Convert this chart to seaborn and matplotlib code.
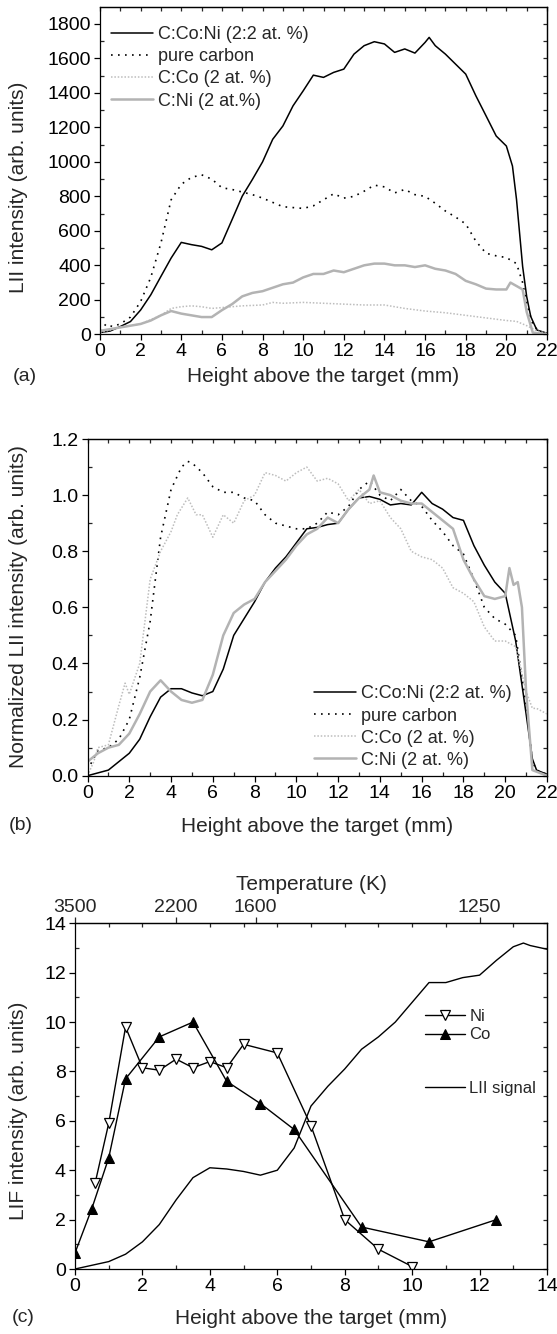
import numpy as np
import pandas as pd
import matplotlib
matplotlib.use("Agg")
import matplotlib.pyplot as plt
import seaborn as sns

# ---------------- data ----------------
# Panel (a): LII intensity (arb. units) vs height (mm)
a_cconi_x = [0, 0.5, 1, 1.5, 2, 2.5, 3, 3.5, 4, 4.5, 5, 5.5, 6, 6.5, 7, 7.5, 8, 8.5, 9, 9.5,
             10, 10.5, 11, 11.5, 12, 12.5, 13, 13.5, 14, 14.5, 15, 15.5, 16, 16.2, 16.5, 17,
             17.5, 18, 18.5, 19, 19.5, 20, 20.3, 20.5, 20.8, 21, 21.2, 21.5, 22]
a_cconi_y = [10, 19, 45, 74, 141, 229, 336, 442, 533, 520, 510, 490, 530, 665, 801, 898,
             1000, 1131, 1208, 1325, 1412, 1503, 1490, 1519, 1538, 1625, 1674, 1697, 1684,
             1635, 1655, 1631, 1693, 1722, 1674, 1625, 1567, 1509, 1383, 1267, 1150, 1092,
             976, 782, 394, 219, 103, 25, 6]
a_pure_x = [0, 0.3, 0.6, 1, 1.5, 2, 2.5, 3, 3.5, 4, 4.5, 5, 5.5, 6, 6.5, 7, 7.5, 8, 8.5, 9,
            9.5, 10, 10.5, 11, 11.5, 12, 12.5, 13, 13.5, 14, 14.5, 15, 15.5, 16, 16.5, 17,
            17.5, 18, 18.5, 19, 19.5, 20, 20.5, 20.8, 21, 21.3, 21.6, 22]
a_pure_y = [20, 60, 45, 60, 100, 190, 330, 530, 780, 870, 910, 925, 900, 850, 840, 825, 810,
            790, 765, 740, 735, 730, 745, 780, 815, 790, 800, 830, 865, 855, 820, 840, 810,
            800, 760, 715, 680, 640, 540, 470, 455, 445, 410, 300, 180, 60, 15, 5]
a_cco_x = [0, 1, 2, 3, 3.5, 4, 4.5, 5, 5.5, 6, 7, 8, 8.5, 9, 10, 11, 12, 13, 14, 15, 16, 17,
           18, 19, 20, 20.5, 21, 21.5, 22]
a_cco_y = [10, 40, 60, 110, 150, 160, 165, 160, 150, 155, 165, 170, 185, 180, 185, 180, 175,
           170, 170, 150, 135, 125, 110, 95, 80, 75, 50, 20, 5]
a_cni_x = [0, 1, 2, 2.5, 3, 3.5, 4, 4.5, 5, 5.5, 6, 6.5, 7, 7.5, 8, 8.5, 9, 9.5, 10, 10.5,
           11, 11.5, 12, 12.5, 13, 13.5, 14, 14.5, 15, 15.5, 16, 16.5, 17, 17.5, 18, 18.5,
           19, 19.5, 20, 20.2, 20.5, 20.8, 21, 21.3, 22]
a_cni_y = [20, 40, 60, 80, 110, 135, 120, 110, 100, 100, 140, 175, 220, 240, 250, 270, 290,
           300, 330, 350, 350, 370, 360, 380, 400, 410, 410, 400, 400, 390, 400, 380, 370,
           350, 310, 290, 265, 260, 260, 300, 280, 260, 130, 10, 0]

# Panel (b): normalized LII intensity
b_cconi_x = [0, 0.5, 1, 1.5, 2, 2.5, 3, 3.5, 4, 4.5, 5, 5.5, 6, 6.5, 7, 7.5, 8, 8.5, 9, 9.5,
             10, 10.5, 11, 11.5, 12, 12.5, 13, 13.5, 14, 14.5, 15, 15.5, 16, 16.5, 17, 17.5,
             18, 18.5, 19, 19.5, 20, 20.5, 21, 21.3, 21.5, 22]
b_cconi_y = [0.0, 0.01, 0.02, 0.05, 0.08, 0.13, 0.21, 0.28, 0.31, 0.31, 0.295, 0.285, 0.30,
             0.38, 0.50, 0.56, 0.62, 0.69, 0.74, 0.78, 0.83, 0.88, 0.885, 0.895, 0.90, 0.95,
             0.99, 0.995, 0.985, 0.965, 0.97, 0.965, 1.01, 0.97, 0.95, 0.92, 0.91, 0.82,
             0.75, 0.69, 0.65, 0.48, 0.22, 0.06, 0.02, 0.005]
b_pure_x = [0, 0.5, 1, 1.5, 2, 2.5, 3, 3.5, 4, 4.5, 4.8, 5, 5.5, 6, 6.5, 7, 7.5, 8, 8.5, 9,
            9.5, 10, 10.5, 11, 11.5, 12, 12.5, 13, 13.5, 14, 14.5, 15, 15.5, 16, 16.5, 17,
            17.5, 18, 18.5, 19, 19.5, 20, 20.5, 21, 21.3, 21.5, 22]
b_pure_y = [0.02, 0.09, 0.10, 0.13, 0.20, 0.35, 0.55, 0.85, 1.02, 1.10, 1.12, 1.115, 1.08,
            1.03, 1.01, 1.01, 0.99, 0.98, 0.93, 0.90, 0.89, 0.88, 0.88, 0.90, 0.94, 0.93,
            0.96, 1.02, 1.05, 1.00, 0.98, 1.02, 0.98, 0.96, 0.91, 0.87, 0.82, 0.79, 0.70,
            0.60, 0.56, 0.54, 0.50, 0.25, 0.05, 0.02, 0.005]
b_cco_x = [0, 0.3, 0.5, 1, 1.5, 1.8, 2, 2.5, 3, 3.5, 4, 4.3, 4.8, 5.2, 5.5, 6, 6.5, 7, 7.5,
           8, 8.5, 9, 9.5, 10, 10.5, 11, 11.5, 12, 12.5, 13, 13.5, 14, 14.5, 15, 15.5, 16,
           16.5, 17, 17.5, 18, 18.5, 19, 19.5, 20, 20.5, 21, 21.3, 21.5, 22]
b_cco_y = [0.0, 0.05, 0.10, 0.11, 0.25, 0.33, 0.29, 0.40, 0.70, 0.80, 0.87, 0.93, 0.99,
           0.93, 0.93, 0.85, 0.93, 0.90, 0.98, 1.00, 1.08, 1.07, 1.05, 1.08, 1.10, 1.05,
           1.06, 1.04, 0.98, 1.02, 0.97, 0.98, 0.92, 0.88, 0.80, 0.78, 0.77, 0.74, 0.67,
           0.65, 0.62, 0.53, 0.48, 0.48, 0.46, 0.30, 0.24, 0.24, 0.22]
b_cni_x = [0, 0.5, 1, 1.5, 2, 2.5, 3, 3.5, 4, 4.5, 5, 5.5, 6, 6.5, 7, 7.5, 8, 8.5, 9, 9.5,
           10, 10.5, 11, 11.5, 12, 12.5, 13, 13.5, 13.7, 14, 14.5, 15, 15.5, 16, 16.5, 17,
           17.5, 18, 18.5, 19, 19.5, 20, 20.2, 20.4, 20.6, 20.8, 21, 21.3, 22]
b_cni_y = [0.05, 0.08, 0.10, 0.11, 0.15, 0.22, 0.30, 0.34, 0.30, 0.27, 0.26, 0.27, 0.36,
           0.50, 0.58, 0.61, 0.63, 0.69, 0.73, 0.77, 0.82, 0.86, 0.88, 0.92, 0.90, 0.95,
           0.99, 1.02, 1.07, 1.01, 1.00, 0.98, 0.97, 0.97, 0.94, 0.91, 0.88, 0.77, 0.70,
           0.64, 0.63, 0.64, 0.74, 0.68, 0.69, 0.60, 0.30, 0.02, 0.0]

# Panel (c): LIF intensity
c_ni_x = [0.6, 1.0, 1.5, 2.0, 2.5, 3.0, 3.5, 4.0, 4.5, 5.0, 6.0, 7.0, 8.0, 9.0, 10.0]
c_ni_y = [3.5, 5.9, 9.8, 8.15, 8.05, 8.5, 8.15, 8.4, 8.15, 9.1, 8.75, 5.8, 2.0, 0.8, 0.1]
c_co_x = [0.0, 0.5, 1.0, 1.5, 2.5, 3.5, 4.5, 5.5, 6.5, 8.5, 10.5, 12.5]
c_co_y = [0.65, 2.45, 4.5, 7.7, 9.4, 10.0, 7.6, 6.7, 5.65, 1.7, 1.1, 2.0]
c_lii_x = [0, 0.5, 1, 1.5, 2, 2.5, 3, 3.5, 4, 4.5, 5, 5.5, 6, 6.5, 7, 7.5, 8, 8.5, 9, 9.5,
           10, 10.5, 11, 11.5, 12, 12.5, 13, 13.3, 13.5, 14]
c_lii_y = [0.0, 0.15, 0.3, 0.6, 1.1, 1.8, 2.8, 3.7, 4.1, 4.05, 3.95, 3.8, 4.0, 4.9, 6.6,
           7.4, 8.1, 8.9, 9.4, 10.0, 10.8, 11.6, 11.6, 11.8, 11.9, 12.5, 13.05, 13.2, 13.1,
           12.95]

temp_tick_pos = [0, 3, 5.36, 12]
temp_tick_labels = ["3500", "2200", "1600", "1250"]

labels_a = ["C:Co:Ni (2:2 at. %)", "pure carbon", "C:Co (2 at. %)", "C:Ni (2 at.%)"]
labels_b = ["C:Co:Ni (2:2 at. %)", "pure carbon", "C:Co (2 at. %)", "C:Ni (2 at. %)"]

# ---------------- style ----------------
sns.set_style("ticks")
plt.rcParams["font.family"] = ["Liberation Sans", "DejaVu Sans"]
plt.rcParams["axes.linewidth"] = 0.9
for k in ["xtick.major.width", "ytick.major.width", "xtick.minor.width", "ytick.minor.width"]:
    plt.rcParams[k] = 0.9

W, H = 557, 1334
fig = plt.figure(figsize=(W / 100, H / 100), dpi=100)


def make_axes(l, r, t, b):
    return fig.add_axes([l / W, 1 - b / H, (r - l) / W, (b - t) / H])


TICK_FS = 14
LABEL_FS = 15
GREY_SOLID = "#b3b3b3"
GREY_DOT = "#bdbdbd"
DOT_BLACK = (0, (1, 3.2))
DOT_GREY = (0, (1, 1.2))


def style_axes(ax, xmaj, xmin, ymaj, ymin, top=True):
    ax.set_xticks(xmaj)
    ax.set_xticks(xmin, minor=True)
    ax.set_yticks(ymaj)
    ax.set_yticks(ymin, minor=True)
    ax.tick_params(which="major", direction="out", length=4.5, labelsize=TICK_FS,
                   pad=2, colors="black")
    ax.tick_params(which="minor", direction="in", length=3)
    for s in ax.spines.values():
        s.set_visible(True)
        s.set_color("black")
    if top:
        sx = ax.secondary_xaxis("top")
        sx.set_xticks(sorted(set(list(xmaj) + list(xmin))))
        sx.tick_params(direction="in", length=3, labeltop=False, width=0.9)
    sy = ax.secondary_yaxis("right")
    sy.set_yticks(sorted(set(list(ymaj) + list(ymin))))
    sy.tick_params(direction="in", length=3, labelright=False, width=0.9)


def set_labels(ax, xl, yl, xy_px, ax_box):
    """Place axis labels centred at given pixel positions."""
    l, r, t, b = ax_box
    ax.set_xlabel(xl, fontsize=LABEL_FS, va="center")
    ax.set_ylabel(yl, fontsize=LABEL_FS, va="center")
    xc_y, yc_x, yc_y = xy_px
    ax.xaxis.set_label_coords(0.5, (b - xc_y) / (b - t))
    ax.yaxis.set_label_coords((yc_x - l) / (r - l), (b - yc_y) / (b - t))


def line(ax, x, y, **kw):
    df = pd.DataFrame({"x": x, "y": y})
    sns.lineplot(data=df, x="x", y="y", ax=ax, estimator=None, sort=False, **kw)


LEG_KW = dict(frameon=False, fontsize=13, handlelength=2.3, handletextpad=0.3,
              labelspacing=0.28, borderpad=0, borderaxespad=0, loc="upper left")

# ---------------- panel (a) ----------------
box_a = (100, 547, 6.7, 334.3)
axa = make_axes(*box_a)
line(axa, a_cconi_x, a_cconi_y, color="black", lw=1.1, label=labels_a[0])
line(axa, a_pure_x, a_pure_y, color="black", lw=1.2, linestyle=DOT_BLACK, label=labels_a[1])
line(axa, a_cco_x, a_cco_y, color=GREY_DOT, lw=1.1, linestyle=DOT_GREY, label=labels_a[2])
line(axa, a_cni_x, a_cni_y, color=GREY_SOLID, lw=1.8, label=labels_a[3])
axa.set_xlim(0, 22)
axa.set_ylim(0, 1900)
style_axes(axa, range(0, 23, 2), range(1, 22, 2), range(0, 1801, 200), range(100, 1900, 200))
set_labels(axa, "Height above the target (mm)", "LII intensity (arb. units)",
           (376.7, 19, 187), box_a)
axa.legend(bbox_to_anchor=(0.025, 0.94), **LEG_KW)
fig.text(25 / W, 1 - 376.7 / H, "(a)", fontsize=14, ha="center", va="center")

# ---------------- panel (b) ----------------
box_b = (87.5, 547, 439, 775.7)
axb = make_axes(*box_b)
line(axb, b_cconi_x, b_cconi_y, color="black", lw=1.1, label=labels_b[0])
line(axb, b_pure_x, b_pure_y, color="black", lw=1.2, linestyle=DOT_BLACK, label=labels_b[1])
line(axb, b_cco_x, b_cco_y, color=GREY_DOT, lw=1.1, linestyle=DOT_GREY, label=labels_b[2])
line(axb, b_cni_x, b_cni_y, color=GREY_SOLID, lw=1.8, label=labels_b[3])
axb.set_xlim(0, 22)
axb.set_ylim(0, 1.2)
style_axes(axb, range(0, 23, 2), range(1, 22, 2), np.round(np.arange(0, 1.21, 0.2), 1),
           np.round(np.arange(0.1, 1.2, 0.2), 1))
axb.set_yticklabels([f"{v:.1f}" for v in np.arange(0, 1.21, 0.2)])
set_labels(axb, "Height above the target (mm)", "Normalized LII intensity (arb. units)",
           (826, 19, 607), box_b)
axb.legend(bbox_to_anchor=(0.494, 0.268), **LEG_KW)
fig.text(21 / W, 1 - 826 / H, "(b)", fontsize=14, ha="center", va="center")

# ---------------- panel (c) ----------------
box_c = (75, 547, 923.3, 1269)
axc = make_axes(*box_c)
line(axc, c_lii_x, c_lii_y, color="black", lw=1.0, label="LII signal")
line(axc, c_ni_x, c_ni_y, color="black", lw=1.0, marker="v", markersize=7.5,
     markerfacecolor="white", markeredgecolor="black", markeredgewidth=0.9, label="Ni")
line(axc, c_co_x, c_co_y, color="black", lw=1.0, marker="^", markersize=7.5,
     markerfacecolor="black", markeredgecolor="black", label="Co")
axc.set_xlim(0, 14)
axc.set_ylim(0, 14)
style_axes(axc, range(0, 15, 2), range(1, 14, 2), range(0, 15, 2), range(1, 14, 2), top=False)
tx = axc.secondary_xaxis("top")
tx.set_xticks(temp_tick_pos, labels=temp_tick_labels)
tx.set_xticks(range(1, 14), minor=True)
tx.tick_params(which="major", direction="out", length=4.5, labelsize=TICK_FS, pad=1,
               width=0.9)
tx.tick_params(which="minor", direction="in", length=3, width=0.9)
tx.set_xlabel("Temperature (K)", fontsize=LABEL_FS, labelpad=6)
set_labels(axc, "Height above the target (mm)", "LIF intensity (arb. units)",
           (1318, 19, 1111), box_c)
hs = {l.get_label(): l for l in axc.get_lines()}
leg_c = dict(LEG_KW)
leg_c.update(fontsize=12, handlelength=2.4, handletextpad=0.25, labelspacing=0.2)
leg1 = axc.legend(handles=[hs["Ni"], hs["Co"]], bbox_to_anchor=(0.742, 0.752), **leg_c)
axc.add_artist(leg1)
axc.legend(handles=[hs["LII signal"]], bbox_to_anchor=(0.742, 0.543), **leg_c)
fig.text(23 / W, 1 - 1318 / H, "(c)", fontsize=14, ha="center", va="center")

fig.savefig("out.png", dpi=100)
